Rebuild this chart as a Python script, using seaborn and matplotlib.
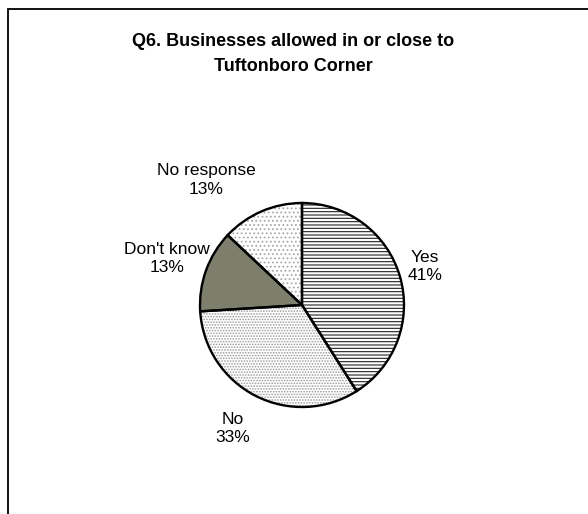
import matplotlib
matplotlib.use("Agg")
import matplotlib.pyplot as plt
import matplotlib.patches as mpatches
import seaborn as sns

sns.set_theme(style="white")
plt.rcParams['font.family'] = ['Liberation Sans', 'DejaVu Sans']
plt.rcParams['hatch.linewidth'] = 0.8
plt.rcParams['text.color'] = 'black'

# Data
categories = ["Yes", "No", "Don't know", "No response"]
values = [41, 33, 13, 13]
pct_labels = ["41%", "33%", "13%", "13%"]

title = "Q6. Businesses allowed in or close to\nTuftonboro Corner"

W, H = 588, 514
fig = plt.figure(figsize=(W / 100, H / 100), dpi=100)
ax = fig.add_axes([0, 0, 1, 1])

center = (302, H - 305)
radius = 102

fills = ["white", "white", "#7e7e6c", "white"]
hatches = ["-----", "......", None, "...."]
hatch_cols = ["#222222", "#9a9a9a", "#7e7e6c", "#a8a8a8"]

# hatch layer
wedges, _ = ax.pie(values, startangle=90, counterclock=False, center=center,
                   radius=radius, colors=fills,
                   wedgeprops=dict(linewidth=0))
for w, h, hc in zip(wedges, hatches, hatch_cols):
    if h:
        w.set_hatch(h)
    w.set_edgecolor(hc)
    w.set_linewidth(0)

# outline layer
ax.pie(values, startangle=90, counterclock=False, center=center, radius=radius,
       colors=["none"] * len(values),
       wedgeprops=dict(linewidth=1.7, edgecolor="black", fill=False))

# labels
label_pos = [(425, 267), (233, 428), (167, 259), (206, 180)]
for cat, pct, (x, y) in zip(categories, pct_labels, label_pos):
    ax.text(x, H - y, f"{cat}\n{pct}", ha="center", va="center",
            fontsize=12.5, color="black", linespacing=1.25)

ax.set_xlim(0, W)
ax.set_ylim(0, H)
ax.set_aspect("equal")
ax.axis("off")

fig.text(293 / W, 1 - 54 / H, title, ha="center", va="center",
         fontsize=13, fontweight="bold", linespacing=1.55, color="black")

frame = mpatches.Rectangle((8 / W, -0.05), 1.1, 1 - 9 / H + 0.05,
                           transform=fig.transFigure, fill=False,
                           edgecolor="black", linewidth=1.3)
fig.patches.append(frame)

fig.savefig("out.png", dpi=100, facecolor="white")
